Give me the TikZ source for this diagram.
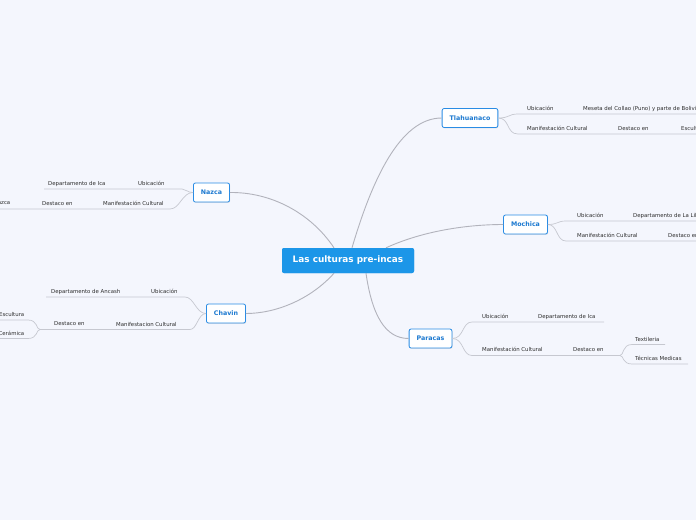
\documentclass[tikz,border=0pt]{standalone}
\usepackage{fontspec}
\setmainfont{DejaVu Sans}
\usetikzlibrary{shadows}
\definecolor{bg}{HTML}{F4F6FD}
\definecolor{rootblue}{HTML}{1C96E8}
\definecolor{nodeblue}{HTML}{2A8CE4}
\definecolor{nodetext}{HTML}{1A78D0}
\definecolor{conn}{HTML}{B2B3BC}
\definecolor{brc}{HTML}{C6C8D0}
\definecolor{lbltext}{HTML}{2E2E2E}
\tikzset{
  rootbox/.style={fill=rootblue, text=white, rounded corners=2pt, font=\fontsize{8.9}{10}\selectfont\bfseries,
     minimum width=132pt, minimum height=25pt, inner sep=0pt},
  topic/.style={draw=nodeblue, line width=0.8pt, fill=white, rounded corners=2pt, text=nodetext,
     font=\fontsize{6.3}{7}\selectfont\bfseries, minimum height=19pt, inner xsep=7.5pt, inner ysep=0pt,
     drop shadow={opacity=0.18, shadow xshift=0.6pt, shadow yshift=-0.9pt}},
  lbl/.style={font=\fontsize{5.4}{6}\selectfont, text=lbltext, inner sep=0pt, anchor=base west},
  lblr/.style={lbl, anchor=base east},
  main/.style={draw=conn, line width=0.9pt},
  br/.style={draw=brc, line width=0.7pt},
}
\begin{document}
\begin{tikzpicture}[x=1pt,y=-1pt]
\useasboundingbox (0,0) rectangle (696,520);
\fill[bg] (0,0) rectangle (696,520);
\clip (0,0) rectangle (696,520);

% nodes
\node[rootbox] (root) at (348,260.5) {Las culturas pre-incas};
\node[topic] (tla) at (470,118) {Tlahuanaco};
\node[topic] (naz) at (211.5,192.5) {Nazca};
\node[topic] (moc) at (525.5,224.5) {Mochica};
\node[topic] (cha) at (226,313.5) {Chavin};
\node[topic] (par) at (430.5,338.5) {Paracas};

% main connectors
\draw[main] ([xshift=4pt]root.north) .. controls (372,180) and (400,118) .. (tla.west);
\draw[main] ([xshift=-14pt]root.north) .. controls (310,212) and (270,192) .. (naz.east);
\draw[main] ([xshift=38pt]root.north) .. controls (425,230) and (470,224.5) .. (moc.west);
\draw[main] ([xshift=-14pt]root.south) .. controls (310,300) and (275,313.5) .. (cha.east);
\draw[main] ([xshift=18pt]root.south) .. controls (372,315) and (385,338.5) .. (par.west);
\node[rootbox] at (root) {Las culturas pre-incas};

% ---------- Tlahuanaco
\coordinate (t1) at (518,114); \coordinate (t1e) at (696,114);
\coordinate (t2) at (518,134); \coordinate (t2e) at (696,134);
\draw[br] (tla.east) .. controls (510,118) and (508,114) .. (t1) -- (t1e);
\draw[br] (tla.east) .. controls (510,118) and (506,134) .. (t2) -- (t2e);
\node[lbl] (tlau) at (527,110.5) {Ubicación};
\node[lbl] (tlam) at (583,110.5) {Meseta del Collao (Puno) y parte de Bolivia};
\node[lbl] (tlamc) at (527,130.5) {Manifestación Cultural};
\node[lbl] (tlad) at (618,130.5) {Destaco en};
\node[lbl] (tlae) at (681,130.5) {Escultura};

% ---------- Nazca
\coordinate (n1) at (182,189); \coordinate (n1e) at (44,189);
\coordinate (n2) at (170,209); \coordinate (n2e) at (-2,209);
\draw[br] (naz.west) .. controls (187,192.5) and (186,189) .. (n1) -- (n1e);
\draw[br] (naz.west) .. controls (182,192.5) and (180,209) .. (n2) -- (n2e);
\node[lbl] (nazu) at (138,185.5) {Ubicación};
\node[lbl] (nazd) at (48,185.5) {Departamento de Ica};
\node[lbl] (nazm) at (103,205.5) {Manifestación Cultural};
\node[lbl] (nazde) at (42,205.5) {Destaco en};
\node[lblr] (nazl) at (10.5,204.5) {Nazca};

% ---------- Mochica
\coordinate (m1) at (566,221); \coordinate (m1e) at (696,221);
\coordinate (m2) at (566,241); \coordinate (m2e) at (696,241);
\draw[br] (moc.east) .. controls (558,224.5) and (557,221) .. (m1) -- (m1e);
\draw[br] (moc.east) .. controls (558,224.5) and (556,241) .. (m2) -- (m2e);
\node[lbl] (mocu) at (577,217.5) {Ubicación};
\node[lbl] (mocd) at (633,217.5) {Departamento de La Libertad};
\node[lbl] (mocm) at (577,237) {Manifestación Cultural};
\node[lbl] (mocde) at (668,237) {Destaco en};

% ---------- Chavin
\coordinate (c1) at (185,297); \coordinate (c1e) at (46,297);
\coordinate (c2) at (190,329.5); \coordinate (cs) at (40,329.5);
\coordinate (c3) at (28,320); \coordinate (c3e) at (-2,320);
\coordinate (c4) at (28,338.5); \coordinate (c4e) at (-2,338.5);
\draw[br] (cha.west) .. controls (196,313.5) and (194,297) .. (c1) -- (c1e);
\draw[br] (cha.west) .. controls (198,313.5) and (197,329.5) .. (c2) -- (cs);
\draw[br] (cs) .. controls (36,329.5) and (38,320) .. (c3) -- (c3e);
\draw[br] (cs) .. controls (36,329.5) and (38,338.5) .. (c4) -- (c4e);
\node[lbl] (chau) at (151,293.5) {Ubicación};
\node[lbl] (chad) at (51,293) {Departamento de Ancash};
\node[lbl] (cham) at (116,326) {Manifestacion Cultural};
\node[lbl] (chade) at (54,325.5) {Destaco en};
\node[lblr] (chaes) at (24.5,316.5) {Escultura};
\node[lblr] (chace) at (24.5,335) {Cerámica};

% ---------- Paracas
\coordinate (p1) at (472,322); \coordinate (p1e) at (604,322);
\coordinate (p2) at (472,355.5); \coordinate (ps) at (620,355.5);
\coordinate (p3) at (632,344.5); \coordinate (p3e) at (665,344.5);
\coordinate (p4) at (632,364); \coordinate (p4e) at (688,364);
\draw[br] (par.east) .. controls (464,338.5) and (462,322) .. (p1) -- (p1e);
\draw[br] (par.east) .. controls (464,338.5) and (462,355.5) .. (p2) -- (ps);
\draw[br] (ps) .. controls (624,355.5) and (622,344.5) .. (p3) -- (p3e);
\draw[br] (ps) .. controls (624,355.5) and (622,364) .. (p4) -- (p4e);
\node[lbl] (paru) at (482,318.5) {Ubicación};
\node[lbl] (pard) at (538,318.5) {Departamento de Ica};
\node[lbl] (parm) at (482,351.5) {Manifestación Cultural};
\node[lbl] (parde) at (573,351.5) {Destaco en};
\node[lbl] (part) at (635,341) {Textileria};
\node[lbl] (parte) at (635,360.5) {Técnicas Medicas};
\end{tikzpicture}
\end{document}
